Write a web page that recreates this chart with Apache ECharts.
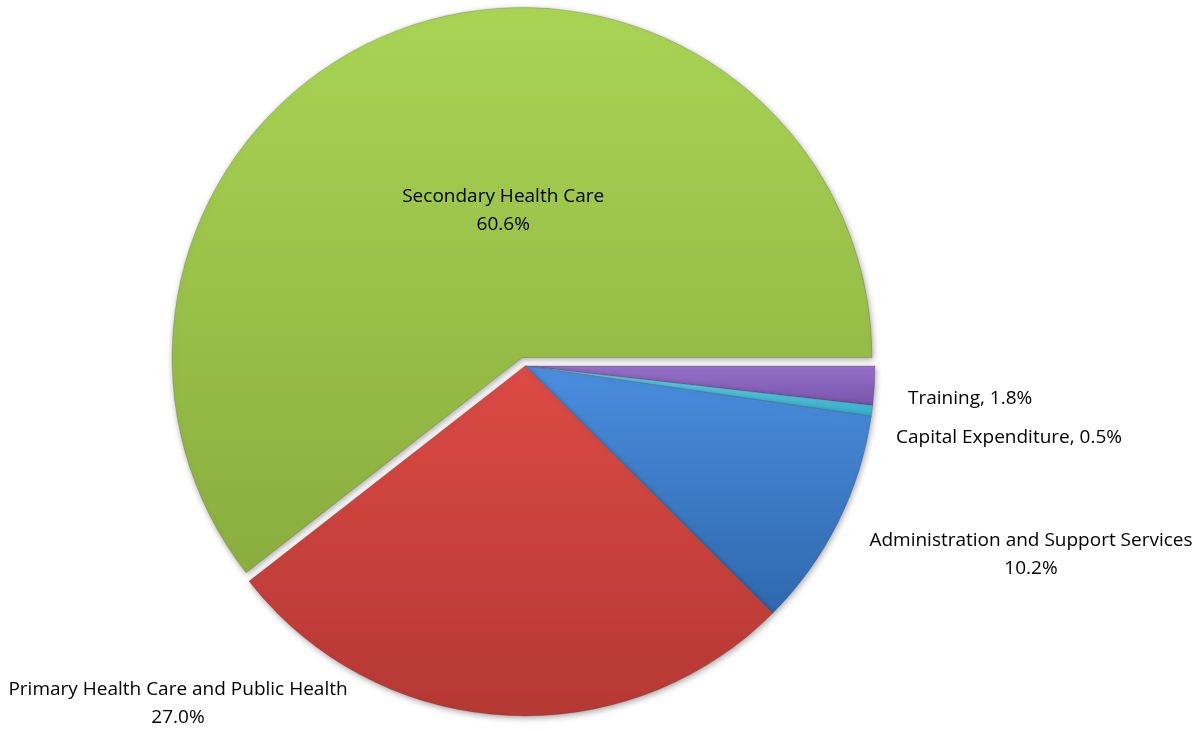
<!DOCTYPE html>
<html>
<head>
<meta charset="utf-8">
<script src="https://cdn.jsdelivr.net/npm/echarts@6/dist/echarts.min.js"></script>
<style>
html,body{margin:0;padding:0;background:#fff;}
#chart{width:1196px;height:731px;}
</style>
</head>
<body>
<div id="chart"></div>
<script>
const categories = ['Training', 'Capital Expenditure', 'Administration and Support Services', 'Primary Health Care and Public Health', 'Secondary Health Care'];
const values = [1.8, 0.5, 10.2, 27.0, 60.6];
const colorsTop = ['#9670C8', '#62D2EA', '#4A8EDE', '#DC4A44', '#A9D454'];
const colorsBottom = ['#7A55AC', '#38AECB', '#2F68AE', '#B53834', '#8AAD3E'];
const inlineLabel = [true, true, false, false, false];

const labelPos = [
  {x: 908, y: 399, align: 'left'},
  {x: 896, y: 438, align: 'left'},
  {x: 1031, y: 555, align: 'center'},
  {x: 178, y: 704, align: 'center'},
  {dx: 39, dy: 21}
];

const data = categories.map((name, i) => {
  const item = {
    name: name,
    value: values[i],
    itemStyle: {
      color: {
        type: 'linear', x: 0, y: 0, x2: 0, y2: 1,
        colorStops: [{offset: 0, color: colorsTop[i]}, {offset: 1, color: colorsBottom[i]}]
      }
    }
  };
  if (i === 4) {
    item.selected = true;
    item.label = {position: 'inner'};
  }
  return item;
});

const chart = echarts.init(document.getElementById('chart'), null, {renderer: 'canvas'});
chart.setOption({
  backgroundColor: '#ffffff',
  animation: false,
  series: [{
    type: 'pie',
    center: [525, 366],
    radius: 350,
    startAngle: 0,
    clockwise: true,
    avoidLabelOverlap: false,
    selectedMode: 'single',
    selectedOffset: 9,
    data: data,
    itemStyle: {
      borderColor: 'rgba(60,60,60,0.35)',
      borderWidth: 0.6,
      shadowBlur: 6,
      shadowColor: 'rgba(0,0,0,0.35)',
      shadowOffsetX: 1,
      shadowOffsetY: 2
    },
    emphasis: {disabled: true},
    labelLine: {show: false},
    label: {
      show: true,
      color: '#000',
      fontFamily: 'Open Sans',
      fontSize: 19,
      lineHeight: 28,
      formatter: function (p) {
        const pct = p.value.toFixed(1) + '%';
        return inlineLabel[p.dataIndex] ? p.name + ', ' + pct : p.name + '\n' + pct;
      }
    },
    labelLayout: function (p) {
      const l = labelPos[p.dataIndex];
      if (l.dx !== undefined) return {dx: l.dx, dy: l.dy};
      return {x: l.x, y: l.y, align: l.align, verticalAlign: 'middle'};
    }
  }]
});
</script>
</body>
</html>
